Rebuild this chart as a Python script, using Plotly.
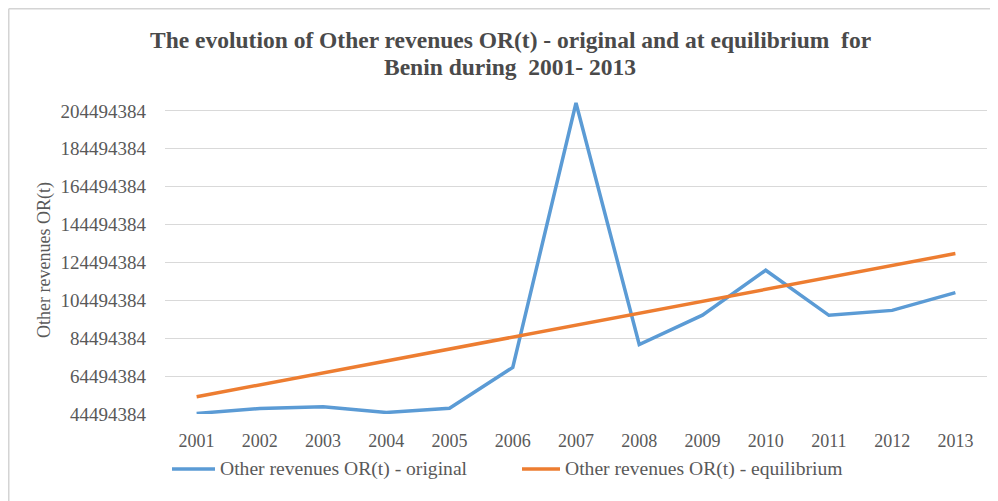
import plotly.graph_objects as go

years = ["2001", "2002", "2003", "2004", "2005", "2006", "2007",
         "2008", "2009", "2010", "2011", "2012", "2013"]
original = [44800000, 47400000, 48300000, 45300000, 47500000, 69100000, 208700000,
            81200000, 96700000, 120400000, 96600000, 99200000, 108600000]
equilibrium = [53600000, 59900000, 66200000, 72500000, 78800000, 85100000, 91400000,
               97700000, 104000000, 110300000, 116600000, 122900000, 129200000]
tick_vals = [44494384, 64494384, 84494384, 104494384, 124494384,
             144494384, 164494384, 184494384, 204494384]
tick_text = [str(v) for v in tick_vals]
series_names = ["Other revenues OR(t) - original", "Other revenues OR(t) - equilibrium"]
series_colors = ["#5B9BD5", "#ED7D31"]

FONT = "Liberation Serif"
GRAY = "#595959"

fig = go.Figure()
for name, vals, col in zip(series_names, [original, equilibrium], series_colors):
    fig.add_trace(go.Scatter(x=years, y=vals, mode="lines", name=name,
                             line=dict(color=col, width=3.5), showlegend=False))

OFF = 8  # page body offset
W, H = 998, 501
L = 165 - OFF
T = 92 - OFF
R = W - (987 - OFF)
B = H - (413.9 - OFF)
pw, ph = W - L - R, H - T - B


def px_x(p):
    return (p - OFF - L) / pw


def px_y(p):
    return (H - B - (p - OFF)) / ph


def fig_x(p):
    return (p - L) / pw


def fig_y(p):
    return (H - B - p) / ph


annotations = [
    dict(text="<b>The evolution of Other revenues OR(t) - original and at equilibrium  for</b>",
         x=px_x(510), y=px_y(40), xref="paper", yref="paper", showarrow=False,
         xanchor="center", yanchor="middle",
         font=dict(family=FONT, size=23.5, color="#4a4a4a")),
    dict(text="<b>Benin during  2001- 2013</b>",
         x=px_x(510), y=px_y(67), xref="paper", yref="paper", showarrow=False,
         xanchor="center", yanchor="middle",
         font=dict(family=FONT, size=23.5, color="#4a4a4a")),
    dict(text="Other revenues OR(t)", textangle=-90,
         x=px_x(44), y=px_y(260), xref="paper", yref="paper", showarrow=False,
         xanchor="center", yanchor="middle",
         font=dict(family=FONT, size=18, color=GRAY)),
]
shapes = [
    dict(type="line", xref="paper", yref="paper",
         x0=fig_x(0.75), x1=fig_x(0.75), y0=fig_y(0.75), y1=fig_y(H + 5),
         line=dict(color="#D4D4D4", width=1.5), layer="above"),
    dict(type="line", xref="paper", yref="paper",
         x0=fig_x(0.75), x1=fig_x(W), y0=fig_y(0.75), y1=fig_y(0.75),
         line=dict(color="#D4D4D4", width=1.5), layer="above"),
]

leg_line_x = [(172, 215), (522, 560)]
leg_text_x = [218, 563]
leg_y = 469
for name, col, (a, b), tx in zip(series_names, series_colors, leg_line_x, leg_text_x):
    shapes.append(dict(type="line", xref="paper", yref="paper",
                       x0=px_x(a), x1=px_x(b), y0=px_y(leg_y), y1=px_y(leg_y),
                       line=dict(color=col, width=3.5)))
    annotations.append(dict(text=name, x=px_x(tx), y=px_y(leg_y), xref="paper", yref="paper",
                            showarrow=False, xanchor="left", yanchor="middle",
                            font=dict(family=FONT, size=19.6, color=GRAY)))

fig.update_layout(
    width=W, height=H,
    margin=dict(l=L, r=R, t=T, b=B),
    paper_bgcolor="white", plot_bgcolor="white",
    font=dict(family=FONT, color=GRAY),
    showlegend=False,
    xaxis=dict(
        type="category", range=[-0.5, 12.5],
        showgrid=False, showline=False, zeroline=False,
        ticks="", tickfont=dict(size=18, color=GRAY, family=FONT),
        ticklabelstandoff=14,
    ),
    yaxis=dict(
        range=[44494384, 214494384],
        tickmode="array", tickvals=tick_vals, ticktext=tick_text,
        showgrid=True, gridcolor="#D9D9D9", gridwidth=1,
        zeroline=False, showline=False, ticks="",
        tickfont=dict(size=19, color=GRAY, family=FONT),
        ticklabelstandoff=18,
    ),
    annotations=annotations,
    shapes=shapes,
)

fig.write_html("out.html")
